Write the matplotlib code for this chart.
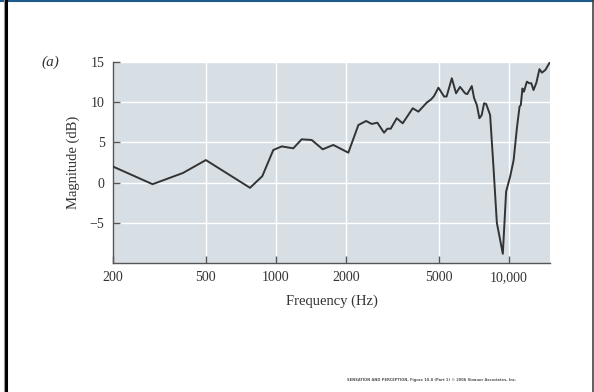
import numpy as np
import matplotlib
matplotlib.use('Agg')
import matplotlib.pyplot as plt
from matplotlib.lines import Line2D
from matplotlib.ticker import FixedLocator, NullLocator

# Frequency response
freq_hz = [200, 296, 400, 501, 775, 875, 975, 1060, 1188, 1291, 1425, 1589, 1764,
           2046, 2260, 2439, 2578, 2725, 2912, 3009, 3110, 3300, 3500, 3865, 4087,
           4438, 4640, 4773, 4981, 5268, 5400, 5686, 5930, 6166, 6483, 6620, 6925,
           7086, 7280, 7466, 7640, 7820, 7980, 8300, 8577, 8870, 9410, 9720, 10113,
           10470, 10810, 11100, 11240, 11420, 11590, 11930, 12220, 12470, 12740,
           13100, 13510, 13840, 14320, 15000]
magnitude_db = [2.0, -0.2, 1.2, 2.8, -0.65, 0.8, 4.05, 4.5, 4.26, 5.38, 5.3, 4.14, 4.68,
                3.72, 7.16, 7.66, 7.29, 7.45, 6.2, 6.7, 6.7, 8.0, 7.37, 9.24, 8.82,
                9.94, 10.36, 10.77, 11.8, 10.7, 10.7, 12.97, 11.1, 11.9, 11.1, 11.0, 12.0,
                10.5, 9.65, 8.0, 8.4, 9.86, 9.78, 8.4, 1.98, -5.0, -8.85, -1.12, 0.74,
                2.8, 6.75, 9.44, 9.65, 11.7, 11.3, 12.55, 12.35, 12.35, 11.5,
                12.4, 14.1, 13.67, 14.0, 15.0]

x_ticks = [200, 500, 1000, 2000, 5000, 10000]
x_tick_labels = ['200', '500', '1000', '2000', '5000', '10,000']
y_ticks = [-5, 0, 5, 10, 15]
y_tick_labels = ['\u22125', '0', '5', '10', '15']

plt.rcParams['font.family'] = ['Liberation Serif', 'DejaVu Serif']

fig = plt.figure(figsize=(5.94, 3.92), dpi=100)
ax = fig.add_axes([0.190, 0.329, 0.736, 0.513])
ax.set_facecolor('#d7dfe5')

ax.plot(freq_hz, magnitude_db, color='#333333', lw=1.4, zorder=3,
        solid_joinstyle='round')

ax.set_xscale('log')
ax.set_xlim(200, 15000)
ax.set_ylim(-10, 15)
ax.xaxis.set_major_locator(FixedLocator(x_ticks))
ax.xaxis.set_minor_locator(NullLocator())
ax.set_xticklabels(x_tick_labels)
ax.set_yticks(y_ticks)
ax.set_yticklabels(y_tick_labels)

ax.grid(True, color='white', lw=1.0, zorder=1)
ax.set_axisbelow(True)
for s in ['top', 'right']:
    ax.spines[s].set_visible(False)
for s in ['left', 'bottom']:
    ax.spines[s].set_color('#555555')
    ax.spines[s].set_linewidth(1.0)
ax.tick_params(direction='in', length=5, width=1.0, color='#555555',
               labelsize=10, labelcolor='#333333', pad=6)

ax.set_xlabel('Frequency (Hz)', fontsize=10.5, color='#333333', labelpad=7)
ax.set_ylabel('Magnitude (dB)', fontsize=10.5, color='#333333', labelpad=7)

fig.text(0.085, 0.84, '(a)', fontsize=11, style='italic', color='#333333',
         ha='center', va='center')

fig.text(0.585, 0.03,
         'SENSATION AND PERCEPTION, Figure 10.8 (Part 1) \u00a9 2006 Sinauer Associates, Inc.',
         fontsize=2.6, fontweight='bold', color='#555555', ha='left', va='center',
         family=['DejaVu Sans'])

# Page frame
fig.add_artist(Line2D([0, 1], [0.998, 0.998], transform=fig.transFigure,
                      color='#1f5a8c', lw=1.5))
fig.add_artist(Line2D([0.0105, 0.0105], [0, 1], transform=fig.transFigure,
                      color='black', lw=2.2))
fig.add_artist(Line2D([0.0065, 0.0065], [0, 1], transform=fig.transFigure,
                      color='#999999', lw=0.8))
fig.add_artist(Line2D([0.998, 0.998], [0, 1], transform=fig.transFigure,
                      color='#444444', lw=1.2))

fig.savefig('out.png', dpi=100)
